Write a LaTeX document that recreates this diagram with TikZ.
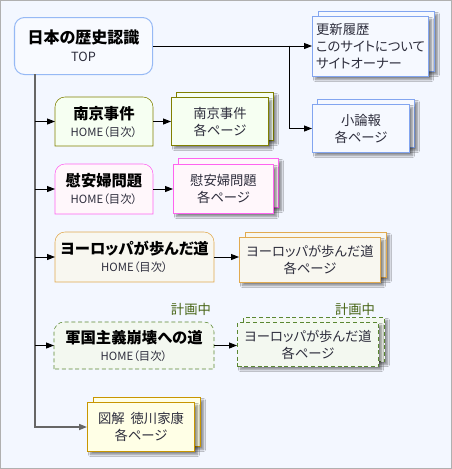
\documentclass[tikz,border=0pt]{standalone}
\usepackage{fontspec}
\setmainfont{Noto Sans CJK JP}[CharacterWidth=AlternateProportional]
\usepackage{tikz}
\usetikzlibrary{positioning,arrows.meta,shadows,shadows.blur,backgrounds,calc}
\definecolor{mypage}{RGB}{243,247,255}
\definecolor{mypageline}{RGB}{176,176,176}
\definecolor{mytopline}{RGB}{150,185,245}
\definecolor{mytopfill}{RGB}{248,250,255}
\definecolor{mybluline}{RGB}{130,165,240}
\definecolor{myblufill}{RGB}{246,249,255}
\definecolor{mynanline}{RGB}{128,128,0}
\definecolor{mynanfill}{RGB}{246,255,242}
\definecolor{myianline}{RGB}{255,100,240}
\definecolor{myianfill}{RGB}{255,247,251}
\definecolor{myeuroline}{RGB}{225,170,80}
\definecolor{myeurofill}{RGB}{248,247,240}
\definecolor{mymilline}{RGB}{90,135,50}
\definecolor{mymilfill}{RGB}{243,248,240}
\definecolor{mytokuline}{RGB}{200,150,0}
\definecolor{mytokufill}{RGB}{255,255,230}
\definecolor{myplan}{RGB}{70,100,20}
\definecolor{mytext}{RGB}{45,45,60}

\begin{document}
\begin{tikzpicture}[
  x=0.75pt, y=-0.75pt,
  line width=0.75pt,
  every node/.style={inner sep=0pt, anchor=north west, align=center, text=mytext,
    font=\fontsize{10pt}{12.75pt}\selectfont},
  hbox/.style={draw=none},
  docbox/.style={
    draw=#1line,
    fill=#1fill,
    blur shadow={shadow xshift=2.25pt, shadow yshift=-2.25pt, shadow blur radius=1.5pt,
      shadow blur steps=6, shadow opacity=45}
    },
  hdash/.style={dash pattern=on 3pt off 2pt},
  arr/.style={-{Triangle[length=6pt,width=4.5pt]}, black},
  planlabel/.style={anchor=center, text=myplan}
]
\useasboundingbox (0,0) rectangle (452,469);

% title nodes
\node[draw=mytopline, fill=mytopfill, rounded corners=7.5pt,
  minimum width=103.5pt, minimum height=42.75pt]
  (top) at (14,17)
  {{\fontsize{12pt}{14pt}\selectfont\bfseries\color{black}日本の歴史認識}\\[0.5pt]
   {\fontsize{9.5pt}{11pt}\selectfont TOP}};

\node[hbox, minimum width=72.75pt, minimum height=36pt] (nan) at (55,97)
  {{\fontsize{11.5pt}{13.5pt}\selectfont\bfseries\color{black}南京事件}\\
   {\fontsize{8.5pt}{11pt}\selectfont HOME（目次）}};
\node[hbox, minimum width=72.75pt, minimum height=36.75pt] (ian) at (55,164)
  {{\fontsize{11.5pt}{13.5pt}\selectfont\bfseries\color{black}慰安婦問題}\\
   {\fontsize{8.5pt}{11pt}\selectfont HOME（目次）}};
\node[hbox, minimum width=118.5pt, minimum height=36.75pt] (euro) at (55,232)
  {{\fontsize{11.5pt}{13.5pt}\selectfont\bfseries\color{black}ヨーロッパが歩んだ道}\\
   {\fontsize{8.5pt}{11pt}\selectfont HOME（目次）}};
\node[hbox, minimum width=119.25pt, minimum height=34.5pt] (mil) at (54,322)
  {{\fontsize{11.5pt}{13.5pt}\selectfont\bfseries\color{black}軍国主義崩壊への道}\\
   {\fontsize{8.5pt}{11pt}\selectfont HOME（目次）}};

% page nodes, back copy first
\node[docbox=myblu, minimum width=87pt, minimum height=45pt] (updb) at (318,11) {};
\node[docbox=myblu, minimum width=87pt, minimum height=45pt, align=left] (upd) at (312,16)
  {更新履歴\\このサイトについて\\サイトオーナー};

\node[docbox=myblu, minimum width=72.75pt, minimum height=36pt] (ronb) at (317,99) {};
\node[docbox=myblu, minimum width=72.75pt, minimum height=36pt] (ron) at (312,104)
  {小論報\\各ページ};

\node[docbox=mynan, minimum width=72.75pt, minimum height=36pt] (nandocb) at (176,92) {};
\node[docbox=mynan, minimum width=72.75pt, minimum height=36pt] (nandoc) at (171,97)
  {南京事件\\各ページ};

\node[docbox=myian, minimum width=75pt, minimum height=36.75pt] (iandocb) at (178,158) {};
\node[docbox=myian, minimum width=75pt, minimum height=36.75pt] (iandoc) at (173,164)
  {慰安婦問題\\各ページ};

\node[docbox=myeuro, minimum width=105.75pt, minimum height=33.75pt] (eurodocb) at (245,232) {};
\node[docbox=myeuro, minimum width=105.75pt, minimum height=33.75pt] (eurodoc) at (239,237)
  {ヨーロッパが歩んだ道\\各ページ};

\node[docbox=mymil, hdash, minimum width=105.75pt, minimum height=33pt] (mildocb) at (243,317) {};
\node[docbox=mymil, hdash, minimum width=105.75pt, minimum height=33pt] (mildoc) at (237,322)
  {ヨーロッパが歩んだ道\\各ページ};

\node[docbox=mytoku, minimum width=80.25pt, minimum height=36.75pt] (tokub) at (93,397) {};
\node[docbox=mytoku, minimum width=80.25pt, minimum height=36.75pt] (toku) at (87,402)
  {図解\ \ 徳川家康\\各ページ};

\node[planlabel] (plan1) at (191,309) {計画中};
\node[planlabel] (plan2) at (355,309) {計画中};

% outlines with rounded top corners
\begin{scope}[on background layer]
  \draw[mypageline, fill=mypage] (0.5,0.5) rectangle (451.5,468.5);
  \foreach \n/\lc/\fc/\ds in {nan/mynanline/mynanfill/solid, ian/myianline/myianfill/solid,
      euro/myeuroline/myeurofill/solid, mil/mymilline/mymilfill/hdash}
    \draw[draw=\lc, fill=\fc, \ds] (\n.south west) [rounded corners=7.5pt] -- (\n.north west)
      -- (\n.north east) [sharp corners] -- (\n.south east) -- cycle;
\end{scope}

% connectors
\coordinate (trunk) at (35,74);
\coordinate (br) at (289,45.5);
\draw[arr] (top.east) -- (top.east -| upd.west);
\draw[arr] (br) |- (ron.west);
\draw[arr, black!60, line width=1.2pt] (trunk) |- (toku.west);
\foreach \n in {nan,ian,euro,mil}
  \draw[arr] (trunk |- \n.west) -- (\n.west);
\draw[arr] (nan.east) -- (nandoc.west);
\draw[arr] (ian.east) -- (iandoc.west);
\draw[arr] (euro.east) -- (euro.east -| eurodoc.west);
\draw[arr] (mil.east) -- (mil.east -| mildoc.west);

\end{tikzpicture}
\end{document}
